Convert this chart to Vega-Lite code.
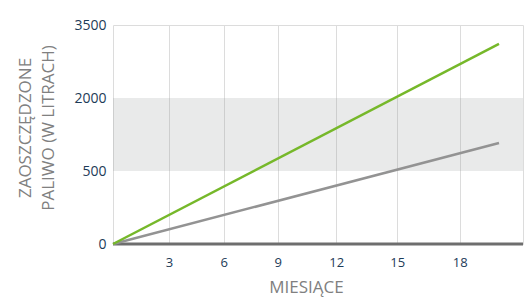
{
  "$schema": "https://vega.github.io/schema/vega-lite/v6.json",
  "width": 410,
  "height": 219,
  "autosize": "none",
  "padding": {"left": 113, "top": 25, "right": 2, "bottom": 54},
  "config": {
    "font": "Open Sans",
    "view": {"stroke": "#dcdcdc", "strokeWidth": 1}
  },
  "encoding": {
    "y": {
      "field": "v",
      "type": "quantitative",
      "scale": {"domain": [0, 500, 2000, 3500], "range": [219, 146, 73, 0], "nice": false, "zero": false},
      "axis": {
        "values": [0, 500, 2000, 3500],
        "format": "d",
        "grid": false,
        "domain": false,
        "ticks": false,
        "labelPadding": 7,
        "labelColor": "#1d3b58",
        "labelFontSize": 14,
        "title": ["ZAOSZCZĘDZONE", "PALIWO (W LITRACH)"],
        "titleColor": "#808080",
        "titleFontSize": 17,
        "titleFontWeight": "normal",
        "titleLineHeight": 23,
        "titlePadding": 16,
        "titleY": 102.5
      }
    }
  },
  "layer": [
    {
      "data": {"values": [{"v": 500, "v2": 2000}]},
      "mark": {"type": "rect", "fill": "#9aa0a0", "opacity": 0.22},
      "encoding": {"y2": {"field": "v2"}}
    },
    {
      "data": {"values": [{"v": 0}]},
      "mark": {"type": "rule", "color": "#6e6e6e", "strokeWidth": 3},
      "encoding": {}
    },
    {
      "data": {
        "values": [
          {"series": "bez", "m": 0, "v": 0},
          {"series": "bez", "m": 20, "v": 1076},
          {"series": "z", "m": 0, "v": 0},
          {"series": "z", "m": 20, "v": 3110}
        ]
      },
      "mark": {"type": "line", "strokeWidth": 2.5},
      "encoding": {
        "x": {
          "field": "m",
          "type": "quantitative",
          "scale": {"domain": [0, 3, 6, 9, 12, 15, 18, 20], "range": [0, 56, 110.7, 164.7, 223.3, 284.3, 346.7, 386], "nice": false, "zero": false},
          "axis": {
            "values": [3, 6, 9, 12, 15, 18],
            "grid": true,
            "gridColor": "#dcdcdc",
            "domain": false,
            "ticks": false,
            "labelPadding": 12,
            "labelColor": "#1d3b58",
            "labelFontSize": 13,
            "title": "MIESIĄCE",
            "titleColor": "#808080",
            "titleFontSize": 17,
            "titleFontWeight": "normal",
            "titlePadding": 10
          }
        },
        "color": {
          "field": "series",
          "type": "nominal",
          "scale": {"domain": ["bez", "z"], "range": ["#939393", "#76b82a"]},
          "legend": null
        },
        "order": {"field": "series"}
      }
    }
  ]
}
